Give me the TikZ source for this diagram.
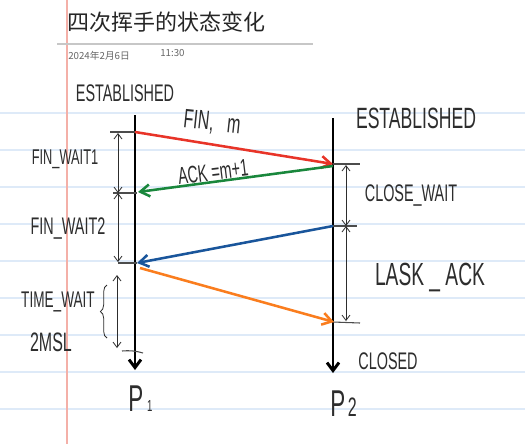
\documentclass[tikz,border=0pt]{standalone}
\usepackage{fontspec}
\setmainfont{Liberation Sans}
\newfontfamily\cjk{Noto Sans CJK SC}
\newfontfamily\hand[FakeStretch=0.6]{Liberation Sans}
\usetikzlibrary{arrows.meta,decorations.pathreplacing}
\definecolor{ink}{RGB}{45,45,45}
\definecolor{rulecol}{RGB}{222,234,248}
\definecolor{margincol}{RGB}{244,176,168}
\definecolor{msgred}{RGB}{232,52,40}
\definecolor{msggreen}{RGB}{25,135,60}
\definecolor{msgblue}{RGB}{25,85,155}
\definecolor{msgorange}{RGB}{250,125,30}
\tikzset{
  rulel/.style={draw=rulecol, line width=0.8pt},
  hand/.style={inner sep=0pt, text=ink, font=\hand\fontsize{#1}{#1}\selectfont},
  timeline/.style={draw=black, line width=2.2pt, -{Straight Barb[length=6pt,width=9pt]}},
  msg/.style={line width=1.9pt, -{Straight Barb[length=7pt,width=9pt]}},
  dim/.style={draw=ink, line width=0.6pt, {Straight Barb[length=4pt,width=6pt]}-{Straight Barb[length=4pt,width=6pt]}},
  tickl/.style={draw=ink!85, line width=0.8pt}
}
\begin{document}
\begin{tikzpicture}[x=0.75pt,y=-0.75pt]
\useasboundingbox (0,0) rectangle (525,444);
\fill[white] (0,0) rectangle (525,444);
% ruled paper
\foreach \yy in {113,150,187,224,261,298,335,372,409}
  \draw[rulel] (0,\yy) -- (525,\yy);
\draw[draw=margincol, line width=0.8pt] (67,0) -- (67,444);
% title
\draw[draw=black!22, line width=1pt] (57,44) -- (313,44);
\node[anchor=west, inner sep=0pt, font=\cjk\fontsize{16.5}{18}\selectfont, text=black!85] (title) at (67,22) {四次挥手的状态变化};
\node[anchor=west, inner sep=0pt, font=\cjk\fontsize{7.3}{9}\selectfont, text=black!60] (date) at (68,56) {2024年2月6日};
\node[anchor=west, inner sep=0pt, font=\cjk\fontsize{7.3}{9}\selectfont, text=black!60] (time) at (160,53) {11:30};
% coordinates
\coordinate (p1top) at (135,115);
\coordinate (p1end) at (135,370);
\coordinate (p2top) at (333,118);
\coordinate (p2end) at (333,373);
\coordinate (a1) at (135,132);
\coordinate (b1) at (333,164);
\coordinate (b2) at (333,166);
\coordinate (a2) at (138,192);
\coordinate (b3) at (333,226);
\coordinate (a3) at (137,263);
\coordinate (a4) at (140,268);
\coordinate (b4) at (334,322);
\coordinate (t1) at (110,132);
\coordinate (t2a) at (113,193);
\coordinate (t2b) at (137,193);
\coordinate (t3) at (118,263);
\coordinate (t4a) at (122,351);
\coordinate (t4b) at (143,353);
\coordinate (r1a) at (333,164);
\coordinate (r1) at (360,164);
\coordinate (r2a) at (333,226);
\coordinate (r2) at (357,226);
\coordinate (r3a) at (333,322);
\coordinate (r3) at (360,323);
\coordinate (d1a) at (118,133);
\coordinate (d1b) at (118,193);
\coordinate (d2b) at (118,262);
\coordinate (d3a) at (117,275);
\coordinate (d3b) at (117,348);
\coordinate (e1a) at (346,165);
\coordinate (e1b) at (346,226);
\coordinate (e2b) at (346,321);
\coordinate (bra) at (107,338);
\coordinate (brb) at (107,285);
% timelines
\draw[timeline] (p1top) -- (p1end);
\draw[timeline] (p2top) -- (p2end);
% ticks
\draw[tickl] (t1) -- (a1);
\draw[tickl] (t2a) -- (t2b);
\draw[tickl] (t3) -- (a3);
\draw[tickl] (t4a) to[bend left=10] (t4b);
\draw[tickl] (r1a) -- (r1);
\draw[tickl] (r2a) -- (r2);
\draw[tickl] (r3a) -- (r3);
% dimension arrows
\draw[dim] (d1a) -- (d1b);
\draw[dim] (d1b) -- (d2b);
\draw[dim] (d3a) -- (d3b);
\draw[dim] (e1a) -- (e1b);
\draw[dim] (e1b) -- (e2b);
\draw[draw=ink, line width=0.6pt, decorate, decoration={brace, amplitude=5pt}] (bra) -- (brb);
% messages
\draw[msg, draw=msgred] (a1) -- (b1);
\draw[msg, draw=msggreen] (b2) -- (a2);
\draw[msg, draw=msgblue] (b3) -- (a3);
\draw[msg, draw=msgorange] (a4) -- (b4);
% labels
\node[hand=18] (estl) at (125,93) {ESTABLISHED};
\node[hand=22] (estr) at (416,118) {ESTABLISHED};
\node[hand=20, rotate=-6] (fin) at (212,123) {FIN,\ \ \ m};
\node[hand=18, rotate=7] (ack) at (213,172) {ACK =m+1};
\node[hand=16] (fw1) at (65,159) {FIN\_WAIT1};
\node[hand=18] (fw2) at (68,228) {FIN\_WAIT2};
\node[hand=17] (tw) at (58,302) {TIME\_WAIT};
\node[hand=20] (msl) at (51,342) {2MSL};
\node[hand=18] (cw) at (411,195) {CLOSE\_WAIT};
\node[hand=24] (la) at (430,277) {LASK\,\_\,ACK};
\node[hand=18] (closed) at (388,361) {CLOSED};
\node[hand=28, anchor=west] (pone) at (128,399) {P\hspace{3pt}{\fontsize{12}{12}\selectfont 1}};
\node[hand=28, anchor=west] (ptwo) at (330,404) {P\hspace{2pt}{\fontsize{20}{20}\selectfont 2}};
\end{tikzpicture}
\end{document}
